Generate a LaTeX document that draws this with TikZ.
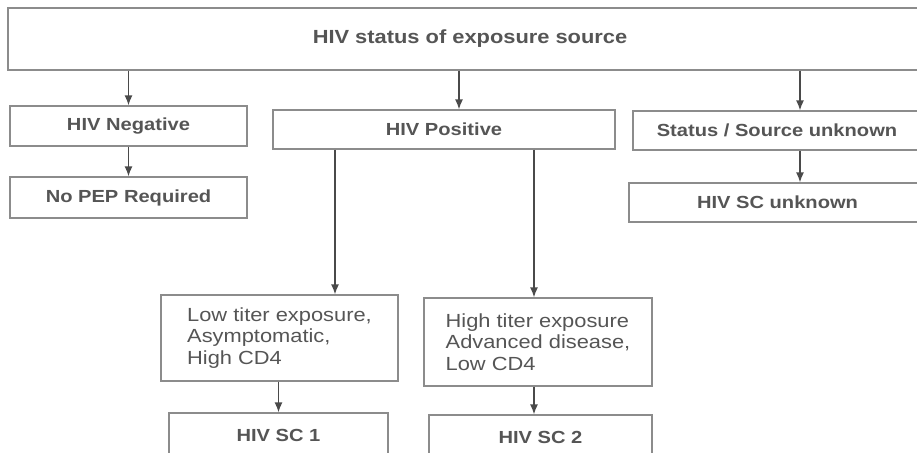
\documentclass[tikz,border=0pt]{standalone}
\usepackage{fontspec}
\setmainfont{Liberation Sans}[FakeStretch=1.15]
\usetikzlibrary{arrows.meta}
\definecolor{boxgray}{HTML}{8C8C8C}
\definecolor{txtgray}{HTML}{555555}
\definecolor{arrgray}{HTML}{4A4A4A}
\begin{document}
\begin{tikzpicture}[x=1pt,y=-1pt,
  box/.style={draw=boxgray,line width=1.3pt,inner sep=0pt,text=txtgray,
    font=\bfseries\fontsize{17.5}{20}\selectfont},
  multibox/.style={box,align=left,font=\fontsize{19}{21.5}\selectfont},
  arr/.style={draw=arrgray,line width=1.3pt,-{Latex[length=10pt,width=8pt]}}]
\useasboundingbox (0,0) rectangle (917,452);
% source
\node[box,minimum width=924pt,minimum height=62pt,
  font=\bfseries\fontsize{19}{21}\selectfont] (src) at (470,39) {HIV status of exposure source};
% second row
\node[box,minimum width=237pt,minimum height=40pt] (neg) at (128.5,126) {HIV Negative};
\node[box,minimum width=237pt,minimum height=41pt] (nopep) at (128.5,197.5) {No PEP Required};
\node[box,minimum width=342pt,minimum height=39pt] (pos) at (444,129.5) {HIV Positive};
\node[box,minimum width=288pt,minimum height=39pt] (stat) at (777,130.5) {Status / Source unknown};
\node[box,minimum width=297pt,minimum height=39pt] (scunk) at (777.5,202.5) {HIV SC unknown};
% positive branch
\node[multibox,minimum width=237pt,minimum height=86pt] (low) at (279.5,338)
  {Low titer exposure,\\Asymptomatic,\\High CD4};
\node[multibox,minimum width=228pt,minimum height=88pt] (high) at (538,342)
  {High titer exposure\\Advanced disease,\\Low CD4};
\node[box,minimum width=219pt,minimum height=44pt] (sc1) at (278.5,435) {HIV SC 1};
\node[box,minimum width=223pt,minimum height=44pt] (sc2) at (540.5,437) {HIV SC 2};
% taps
\coordinate (postap) at (459,0);
\coordinate (stattap) at (800,0);
\coordinate (lowtap) at (335,0);
\coordinate (hightap) at (534,0);
% arrows
\draw[arr] (src.south -| neg.north) -- (neg.north);
\draw[arr] (src.south -| postap) -- (pos.north -| postap);
\draw[arr] (src.south -| stattap) -- (stat.north -| stattap);
\draw[arr] (neg.south) -- (nopep.north);
\draw[arr] (stat.south -| stattap) -- (scunk.north -| stattap);
\draw[arr] (pos.south -| lowtap) -- (low.north -| lowtap);
\draw[arr] (pos.south -| hightap) -- (high.north -| hightap);
\draw[arr] (low.south -| sc1.north) -- (sc1.north);
\draw[arr] (high.south -| hightap) -- (sc2.north -| hightap);
\end{tikzpicture}
\end{document}
